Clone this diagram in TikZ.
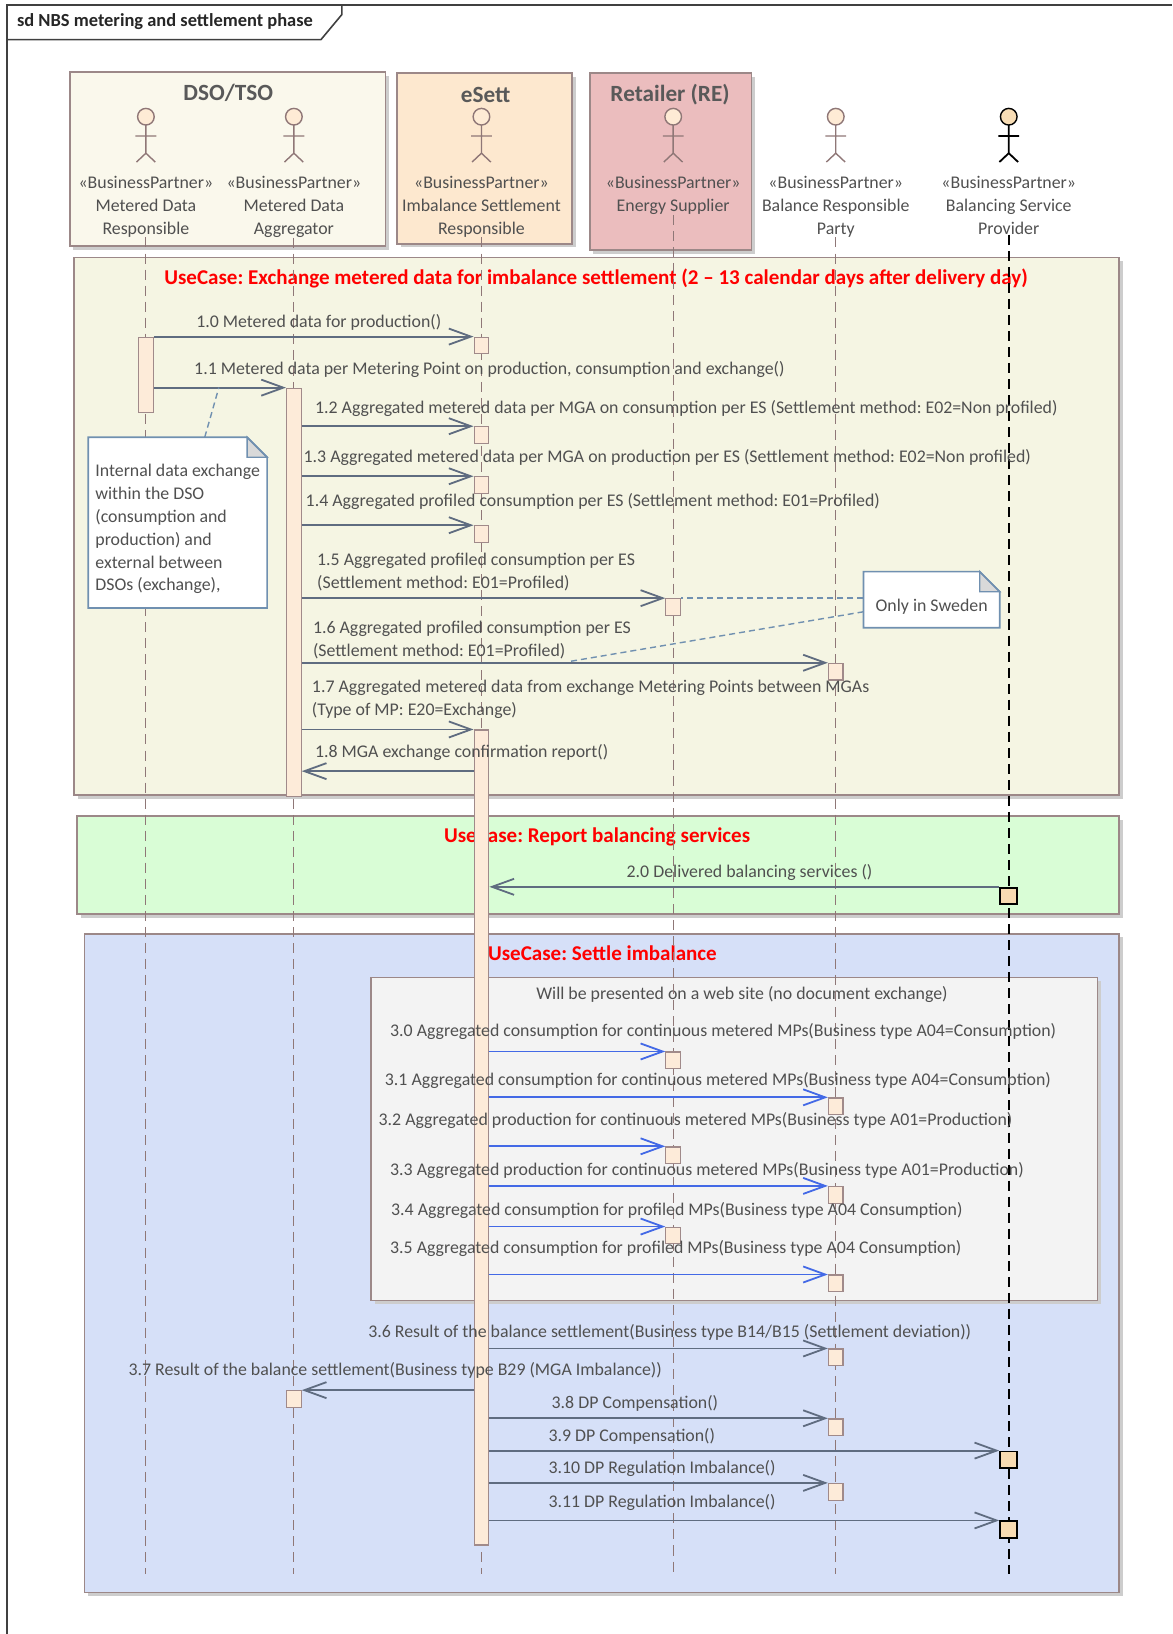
\documentclass[tikz,border=0pt]{standalone}
\usepackage{fontspec}
\setmainfont{Carlito}
\usetikzlibrary{positioning,arrows.meta}
\frenchspacing

\definecolor{txtc}{HTML}{505050}
\definecolor{ucred}{HTML}{FF0000}
\definecolor{boxline}{HTML}{9C8888}
\definecolor{shadowc}{HTML}{CDCDCD}
\definecolor{dsofill}{HTML}{FAF8EC}
\definecolor{esettfill}{HTML}{FDE8CF}
\definecolor{refill}{HTML}{EBBDBE}
\definecolor{uconefill}{HTML}{F5F5E3}
\definecolor{uctwofill}{HTML}{D9FDD6}
\definecolor{ucthreefill}{HTML}{D6E0F8}
\definecolor{fragfill}{HTML}{F3F3F3}
\definecolor{lifec}{HTML}{8F7777}
\definecolor{actfill}{HTML}{FDEBD9}
\definecolor{actline}{HTML}{A08A8A}
\definecolor{bspfill}{HTML}{F8DBB2}
\definecolor{msgc}{HTML}{5F6C80}
\definecolor{msgblue}{HTML}{4369E6}
\definecolor{notec}{HTML}{7090B0}
\definecolor{foldc}{HTML}{D9D9D9}
\definecolor{headfill}{HTML}{FEEBD5}
\definecolor{bspheadfill}{HTML}{F8DDB5}

% folded corner of a note node
\newcommand{\dogear}[1]{%
    \fill[uconefill] ([xshift=-10pt]#1.north east) -- (#1.north east) -- ([yshift=-10pt]#1.north east) -- cycle;
    \filldraw[draw=notec, fill=foldc, line width=0.7pt] ([xshift=-10pt]#1.north east) -- ([yshift=-10pt]#1.north east) -- ([xshift=-10pt,yshift=-10pt]#1.north east) -- cycle;
    \draw[draw=notec, line width=0.8pt] (#1.north west) -- ([xshift=-10pt]#1.north east) -- ([yshift=-10pt]#1.north east) -- (#1.south east) -- (#1.south west) -- cycle;}

\begin{document}
\begin{tikzpicture}[x=0.52pt, y=-0.52pt]
        \tikzstyle{every node}=[font=\fontsize{8.9}{11.4}\selectfont, text=txtc, inner sep=0pt]
        \tikzstyle{sdframe}=[draw=black!75, line width=0.8pt]
        \tikzstyle{ftitle}=[font=\fontsize{9.2}{11}\selectfont\bfseries, text=black!85]
        \tikzstyle{boxed}=[draw=boxline, line width=0.8pt, preaction={fill=shadowc, transform canvas={xshift=1.8pt, yshift=-1.8pt}}]
        \tikzstyle{ptitle}=[font=\fontsize{11.6}{14}\selectfont\bfseries, text=black!65]
        \tikzstyle{uctitle}=[font=\fontsize{10.5}{12}\selectfont\bfseries, text=ucred]
        \tikzstyle{actorhead}=[circle, draw=lifec, fill=headfill, line width=0.7pt, minimum size=8.3pt]
        \tikzstyle{albl}=[align=center]
        \tikzstyle{life}=[draw=lifec, line width=0.6pt, dash pattern=on 5pt off 3pt]
        \tikzstyle{act}=[draw=actline, fill=actfill, line width=0.6pt, minimum width=7.3pt, minimum height=8.3pt, anchor=north]
        \tikzstyle{bspact}=[act, draw=black, fill=bspfill, line width=0.9pt, minimum width=8.6pt]
        \tikzstyle{msg}=[draw=msgc, line width=0.9pt, -{Straight Barb[length=11pt, width=8pt]}]
        \tikzstyle{bluemsg}=[msg, draw=msgblue]
        \tikzstyle{lbl}=[anchor=west, align=left]
        \tikzstyle{notebox}=[fill=white, align=left]
        \tikzstyle{notelink}=[draw=notec, line width=0.7pt, dash pattern=on 3pt off 2pt]
        \tikzset{stick/.pic={\draw (0,8) -- (0,35) (-10,18.5) -- (10,18.5) (-9,43.5) -- (0,35) -- (9,43.5);}}

        \useasboundingbox (0,0) rectangle (1125,1568);

        % frame
        \draw[sdframe] (7,1568) -- (7,5) -- (1125,5);
        \draw[sdframe] (7,38) -- (308,38) -- (328,14) -- (328,5);
        \node[ftitle, anchor=west] (sd) at (16,21) {sd NBS metering and settlement phase};

        % partitions
        \draw[boxed, fill=dsofill] (67,69) rectangle (370,236);
        \draw[boxed, fill=esettfill] (381,70) rectangle (549,234);
        \draw[boxed, fill=refill] (566,70) rectangle (721,240);
        \node[ptitle] (dso) at (219,89) {DSO/TSO};
        \node[ptitle] (esett) at (466,91) {eSett};
        \node[ptitle] (re) at (643,91) {Retailer (RE)};

        % actors
        \node[actorhead] (mdrh) at (140,112) {};
        \node[actorhead] (mdah) at (282,112) {};
        \node[actorhead] (isrh) at (462,112) {};
        \node[actorhead] (esh) at (646,112) {};
        \node[actorhead] (brph) at (802,112) {};
        \node[actorhead, draw=black, fill=bspheadfill] (bsph) at (968,112) {};
        \pic[color=lifec, line width=0.7pt] at (mdrh) {stick};
        \pic[color=lifec, line width=0.7pt] at (mdah) {stick};
        \pic[color=lifec, line width=0.7pt] at (isrh) {stick};
        \pic[color=lifec, line width=0.7pt] at (esh) {stick};
        \pic[color=lifec, line width=0.7pt] at (brph) {stick};
        \pic[color=black, line width=0.9pt] at (bsph) {stick};

        \node[albl, below=25pt of mdrh] (mdr) {«BusinessPartner»\\Metered Data\\Responsible};
        \node[albl, below=25pt of mdah] (mda) {«BusinessPartner»\\Metered Data\\Aggregator};
        \node[albl, below=25pt of isrh] (isr) {«BusinessPartner»\\Imbalance Settlement\\Responsible};
        \node[albl, below=25pt of esh] (es) {«BusinessPartner»\\Energy Supplier};
        \node[albl, below=25pt of brph] (brp) {«BusinessPartner»\\Balance Responsible\\Party};
        \node[albl, below=25pt of bsph] (bsp) {«BusinessPartner»\\Balancing Service\\Provider};

        % use cases
        \draw[boxed, fill=uconefill] (71,247) rectangle (1074,763);
        \node[uctitle] (uc1) at (572,267) {UseCase: Exchange metered data for imbalance settlement (2 – 13 calendar days after delivery day)};
        \draw[boxed, fill=uctwofill] (74,783) rectangle (1074,877);
        \node[uctitle] (uc2) at (573,803) {UseCase: Report balancing services};
        \draw[boxed, fill=ucthreefill] (81,896) rectangle (1074,1528);
        \node[uctitle, anchor=west] (uc3) at (468,915) {UseCase: Settle imbalance};
        \draw[boxed, fill=fragfill] (356,938) rectangle (1053,1248);
        \node (frag) at (712,954) {Will be presented on a web site (no document exchange)};

        % lifelines
        \coordinate (bot) at (0,1510);
        \draw[life] (mdr.south) -- (mdr.south |- bot);
        \draw[life] (mda.south) -- (mda.south |- bot);
        \draw[life] (isr.south) -- (isr.south |- bot);
        \draw[life] (es.south) -- (es.south |- bot);
        \draw[life] (brp.south) -- (brp.south |- bot);
        \draw[life, draw=black, line width=0.8pt] (bsp.south) -- (bsp.south |- bot);

        % activations
        \node[act, minimum height=37.4pt] (mdrbar) at (140,323) {};
        \node[act, minimum height=203.8pt] (mdabar) at (282,372) {};
        \node[act] (a10) at (462,323) {};
        \node[act] (a12) at (462,409) {};
        \node[act] (a13) at (462,457) {};
        \node[act] (a14) at (462,504) {};
        \node[act] (a15) at (646,574) {};
        \node[act] (a16) at (802,636) {};
        \node[act, minimum height=406.6pt] (a17) at (462,700) {};
        \node[bspact] (a20) at (968,851) {};
        \node[act] (a30) at (646,1009) {};
        \node[act] (a31) at (802,1053) {};
        \node[act] (a32) at (646,1100) {};
        \node[act] (a33) at (802,1138) {};
        \node[act] (a34) at (646,1177) {};
        \node[act] (a35) at (802,1223) {};
        \node[act] (a36) at (802,1294) {};
        \node[act] (a37) at (282,1334) {};
        \node[act] (a38) at (802,1361) {};
        \node[bspact] (a39) at (968,1392) {};
        \node[act] (a310) at (802,1423) {};
        \node[bspact] (a311) at (968,1459) {};

        % messages
        \coordinate (y18) at (0,740);
        \draw[msg] (mdrbar.north east) -- (a10.north west);
        \draw[msg] (mdrbar.east |- mdabar.north) -- (mdabar.north west);
        \draw[msg] (mdabar.east |- a12.north) -- (a12.north west);
        \draw[msg] (mdabar.east |- a13.north) -- (a13.north west);
        \draw[msg] (mdabar.east |- a14.north) -- (a14.north west);
        \draw[msg] (mdabar.east |- a15.north) -- (a15.north west);
        \draw[msg] (mdabar.east |- a16.north) -- (a16.north west);
        \draw[msg] (mdabar.east |- a17.north) -- (a17.north west);
        \draw[msg] (a17.west |- y18) -- (mdabar.east |- y18);
        \draw[msg] (a20.north west) -- (a17.east |- a20.north);
        \draw[bluemsg] (a17.east |- a30.north) -- (a30.north west);
        \draw[bluemsg] (a17.east |- a31.north) -- (a31.north west);
        \draw[bluemsg] (a17.east |- a32.north) -- (a32.north west);
        \draw[bluemsg] (a17.east |- a33.north) -- (a33.north west);
        \draw[bluemsg] (a17.east |- a34.north) -- (a34.north west);
        \draw[bluemsg] (a17.east |- a35.north) -- (a35.north west);
        \draw[msg] (a17.east |- a36.north) -- (a36.north west);
        \draw[msg] (a17.west |- a37.north) -- (a37.north east);
        \draw[msg] (a17.east |- a38.north) -- (a38.north west);
        \draw[msg] (a17.east |- a39.north) -- (a39.north west);
        \draw[msg] (a17.east |- a310.north) -- (a310.north west);
        \draw[msg] (a17.east |- a311.north) -- (a311.north west);

        \node[lbl] (m10) at (188,309) {1.0 Metered data for production()};
        \node[lbl] (m11) at (186,355) {1.1 Metered data per Metering Point on production, consumption and exchange()};
        \node[lbl] (m12) at (302,392) {1.2 Aggregated metered data per MGA on consumption per ES (Settlement method: E02=Non profiled)};
        \node[lbl] (m13) at (291,439) {1.3 Aggregated metered data per MGA on production per ES (Settlement method: E02=Non profiled)};
        \node[lbl] (m14) at (293,481) {1.4 Aggregated profiled consumption per ES (Settlement method: E01=Profiled)};
        \node[lbl] (m15) at (304,549) {1.5 Aggregated profiled consumption per ES\\(Settlement method: E01=Profiled)};
        \node[lbl] (m16) at (300,614) {1.6 Aggregated profiled consumption per ES\\(Settlement method: E01=Profiled)};
        \node[lbl] (m17) at (299,671) {1.7 Aggregated metered data from exchange Metering Points between MGAs\\(Type of MP: E20=Exchange)};
        \node[lbl] (m18) at (302,722) {1.8 MGA exchange confirmation report()};
        \node[lbl] (m20) at (601,837) {2.0 Delivered balancing services ()};
        \node[lbl] (m30) at (374,990) {3.0 Aggregated consumption for continuous metered MPs(Business type A04=Consumption)};
        \node[lbl] (m31) at (369,1037) {3.1 Aggregated consumption for continuous metered MPs(Business type A04=Consumption)};
        \node[lbl] (m32) at (363,1075) {3.2 Aggregated production for continuous metered MPs(Business type A01=Production)};
        \node[lbl] (m33) at (374,1123) {3.3 Aggregated production for continuous metered MPs(Business type A01=Production)};
        \node[lbl] (m34) at (375,1162) {3.4 Aggregated consumption for profiled MPs(Business type A04 Consumption)};
        \node[lbl] (m35) at (374,1198) {3.5 Aggregated consumption for profiled MPs(Business type A04 Consumption)};
        \node[lbl] (m36) at (353,1279) {3.6 Result of the balance settlement(Business type B14/B15 (Settlement deviation))};
        \node[lbl] (m37) at (123,1315) {3.7 Result of the balance settlement(Business type B29 (MGA Imbalance))};
        \node[lbl] (m38) at (529,1347) {3.8 DP Compensation()};
        \node[lbl] (m39) at (526,1378) {3.9 DP Compensation()};
        \node[lbl] (m310) at (526,1409) {3.10 DP Regulation Imbalance()};
        \node[lbl] (m311) at (526,1442) {3.11 DP Regulation Imbalance()};

        % notes
        \node[notebox, minimum width=88.9pt, minimum height=84.8pt] (n1) at (170.5,501.5) {\rule{0pt}{12.7pt}Internal data exchange\\within the DSO\\(consumption and\\production) and\\external between\\DSOs (exchange),};
        \dogear{n1}
        \node[notebox, minimum width=67.6pt, minimum height=27.6pt, text height=14pt, text depth=1.8pt] (n2) at (894,575.5) {Only in Sweden};
        \dogear{n2}
        \coordinate (c11) at (210,372);
        \coordinate (c16) at (545,635);
        \draw[notelink] ([xshift=13.5pt]n1.north) -- (c11);
        \draw[notelink] (n2.west |- a15.north) -- (a15.north east);
        \draw[notelink] ([yshift=-6pt]n2.west) -- (c16);

    \end{tikzpicture}
\end{document}
